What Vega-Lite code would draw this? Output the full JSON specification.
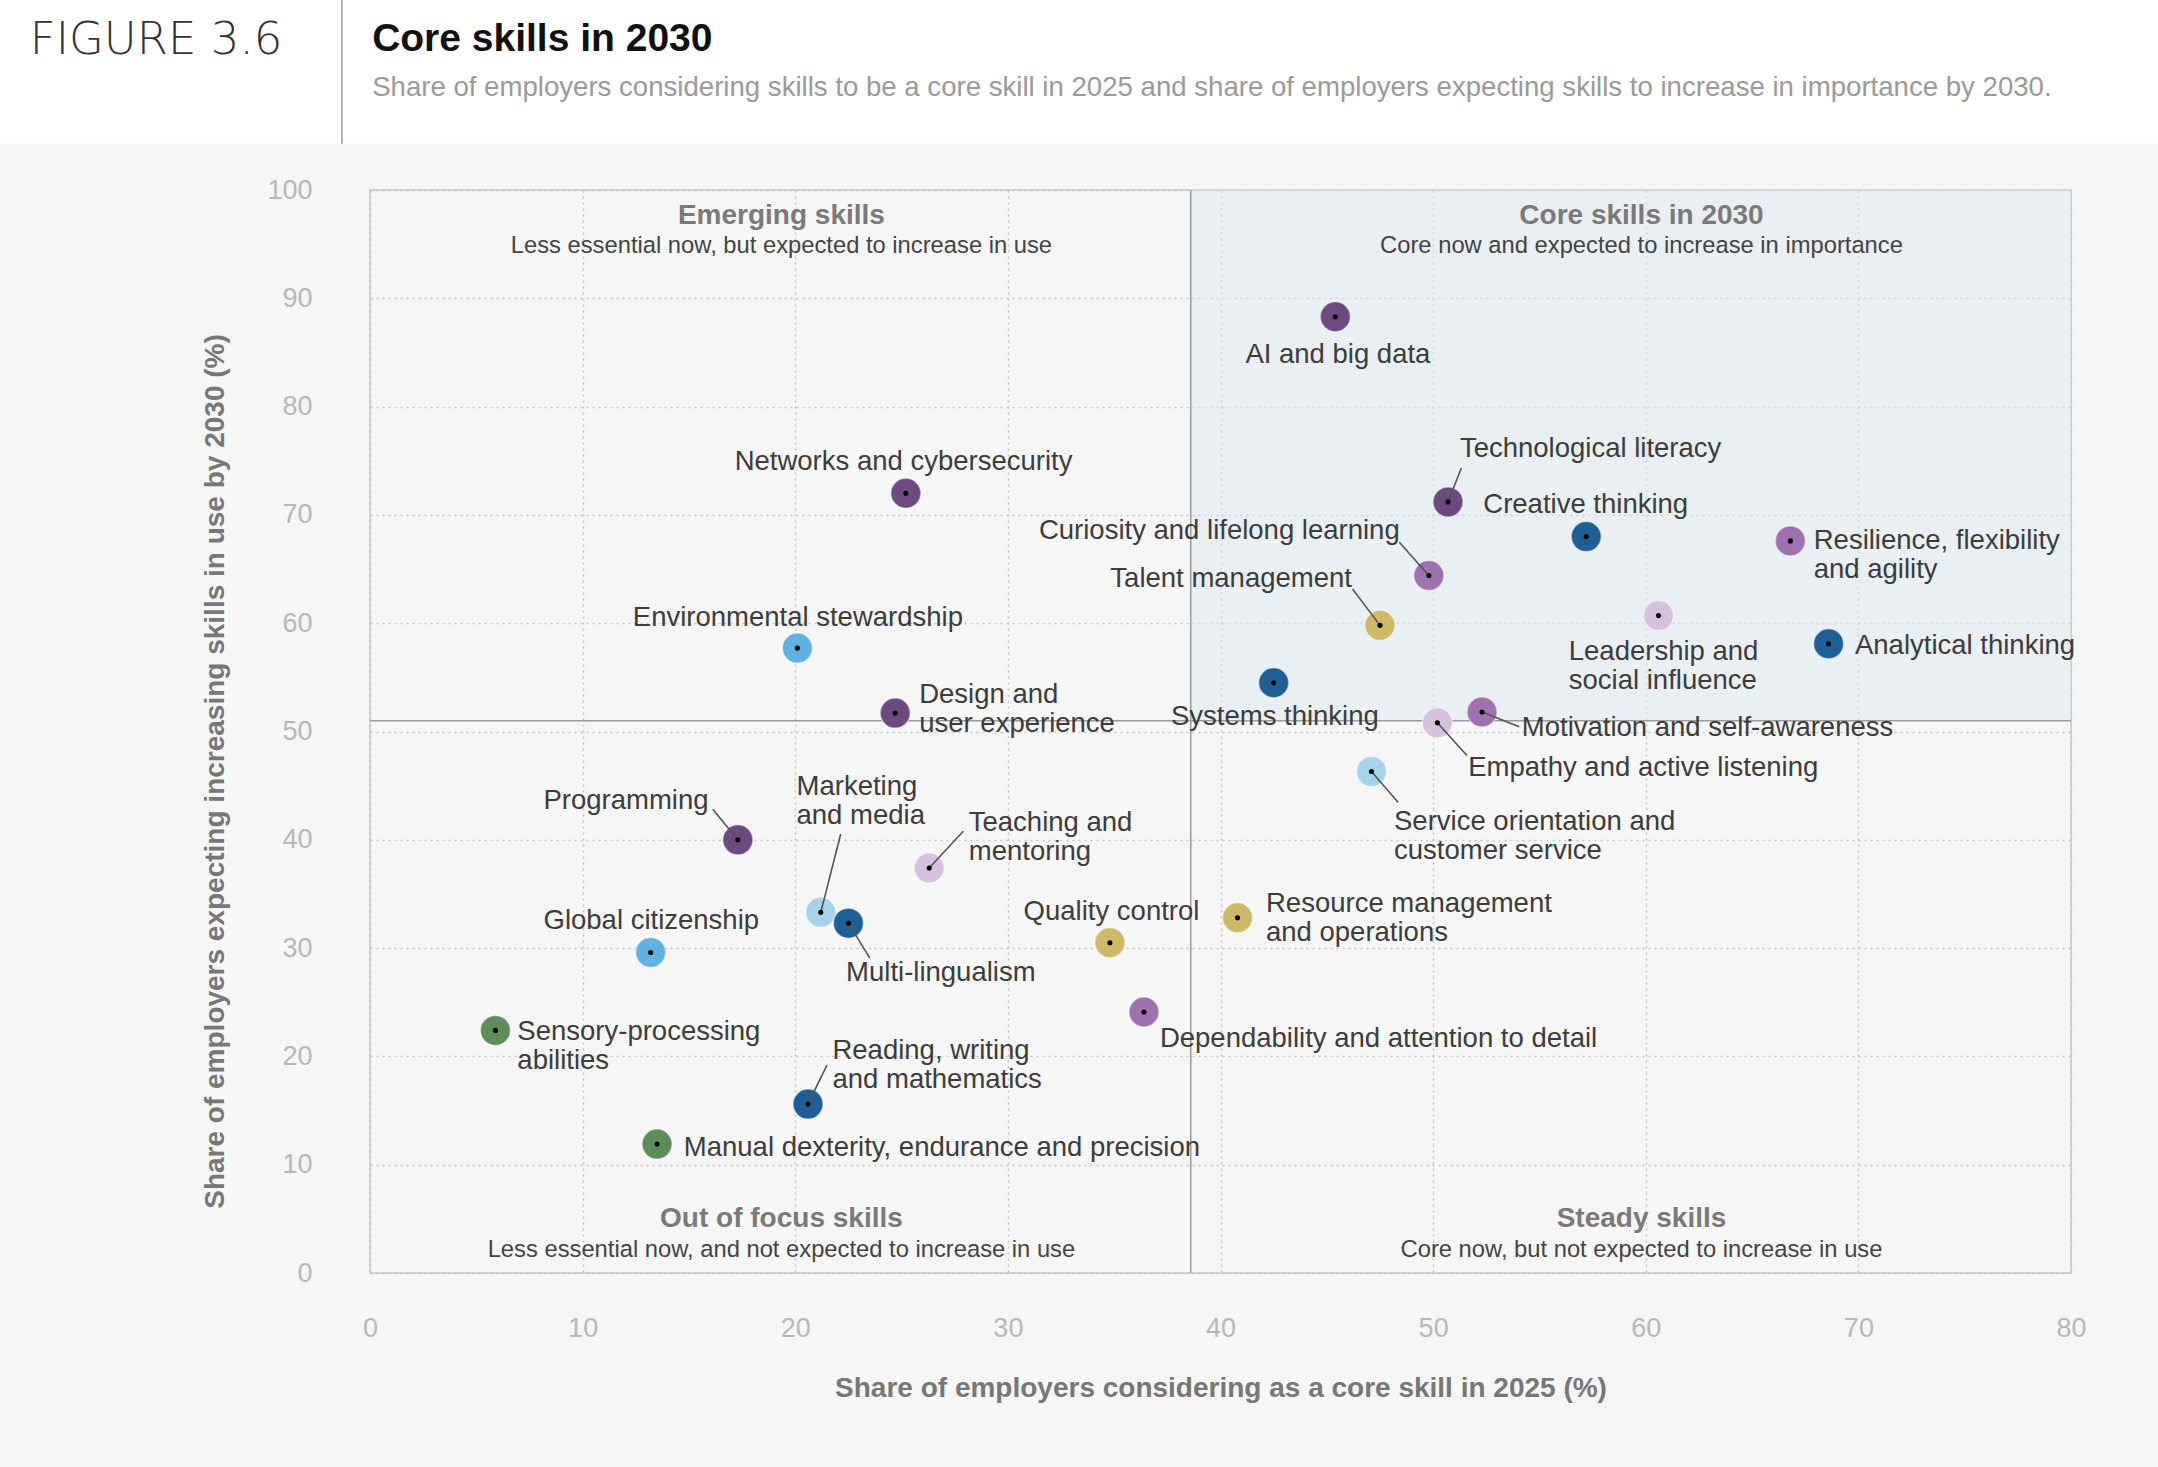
{
  "$schema": "https://vega.github.io/schema/vega-lite/v6.json",
  "width": 1701,
  "height": 1083,
  "autosize": {"type": "none"},
  "padding": {"left": 370, "top": 190, "right": 87, "bottom": 194},
  "background": "#f6f6f6",
  "config": {
    "font": "Liberation Sans",
    "view": {"stroke": "#d2d2d2", "strokeWidth": 2},
    "axis": {
      "grid": true,
      "gridColor": "#c4c4c4",
      "gridDash": [2, 4],
      "gridWidth": 1.5,
      "domain": false,
      "ticks": false,
      "labelFlush": false,
      "labelFontSize": 27,
      "labelColor": "#b8b8b8",
      "labelFont": "Liberation Sans",
      "titleFontSize": 28,
      "titleColor": "#777777",
      "titleFontWeight": "bold",
      "titleFont": "Liberation Sans"
    }
  },
  "datasets": {
    "skills": [
      {"skill": "AI and big data", "label": "AI and big data", "cat": "Technology skills", "x": 45.4, "y": 88.3, "lx": 41.17, "ly": 84.75},
      {"skill": "Networks and cybersecurity", "label": "Networks and cybersecurity", "cat": "Technology skills", "x": 25.2, "y": 72.0, "lx": 17.15, "ly": 74.84},
      {"skill": "Technological literacy", "label": "Technological literacy", "cat": "Technology skills", "x": 50.7, "y": 71.2, "lx": 51.26, "ly": 76.11, "ax": 51.33, "ay": 74.33},
      {"skill": "Creative thinking", "label": "Creative thinking", "cat": "Cognitive skills", "x": 57.2, "y": 68.0, "lx": 52.36, "ly": 70.9},
      {"skill": "Resilience, flexibility and agility", "label": "Resilience, flexibility\nand agility", "cat": "Self-efficacy", "x": 66.8, "y": 67.6, "lx": 67.9, "ly": 67.6},
      {"skill": "Curiosity and lifelong learning", "label": "Curiosity and lifelong learning", "cat": "Self-efficacy", "x": 49.8, "y": 64.4, "lx": 31.46, "ly": 68.49, "ax": 48.41, "ay": 67.47},
      {"skill": "Leadership and social influence", "label": "Leadership and\nsocial influence", "cat": "Working with others", "x": 60.6, "y": 60.7, "lx": 56.38, "ly": 57.31},
      {"skill": "Talent management", "label": "Talent management", "cat": "Management skills", "x": 47.5, "y": 59.8, "lx": 34.82, "ly": 64.04, "ax": 46.21, "ay": 63.15},
      {"skill": "Analytical thinking", "label": "Analytical thinking", "cat": "Cognitive skills", "x": 68.6, "y": 58.1, "lx": 69.84, "ly": 57.94},
      {"skill": "Environmental stewardship", "label": "Environmental stewardship", "cat": "Ethics", "x": 20.1, "y": 57.7, "lx": 12.36, "ly": 60.48},
      {"skill": "Systems thinking", "label": "Systems thinking", "cat": "Cognitive skills", "x": 42.5, "y": 54.5, "lx": 37.67, "ly": 51.33},
      {"skill": "Design and user experience", "label": "Design and\nuser experience", "cat": "Technology skills", "x": 24.7, "y": 51.7, "lx": 25.83, "ly": 53.37},
      {"skill": "Motivation and self-awareness", "label": "Motivation and self-awareness", "cat": "Self-efficacy", "x": 52.3, "y": 51.8, "lx": 54.17, "ly": 50.32, "ax": 54.05, "ay": 50.44},
      {"skill": "Empathy and active listening", "label": "Empathy and active listening", "cat": "Working with others", "x": 50.2, "y": 50.8, "lx": 51.65, "ly": 46.63, "ax": 51.59, "ay": 47.78},
      {"skill": "Service orientation and customer service", "label": "Service orientation and\ncustomer service", "cat": "Engagement skills", "x": 47.1, "y": 46.3, "lx": 48.16, "ly": 41.68, "ax": 48.35, "ay": 43.46},
      {"skill": "Programming", "label": "Programming", "cat": "Technology skills", "x": 17.3, "y": 40.0, "lx": 8.16, "ly": 43.58, "ax": 16.12, "ay": 42.82},
      {"skill": "Teaching and mentoring", "label": "Teaching and\nmentoring", "cat": "Working with others", "x": 26.3, "y": 37.4, "lx": 28.16, "ly": 41.55, "ax": 27.9, "ay": 40.79},
      {"skill": "Marketing and media", "label": "Marketing\nand media", "cat": "Engagement skills", "x": 21.2, "y": 33.3, "lx": 20.06, "ly": 44.85, "ax": 22.14, "ay": 40.53},
      {"skill": "Multi-lingualism", "label": "Multi-lingualism", "cat": "Cognitive skills", "x": 22.5, "y": 32.3, "lx": 22.39, "ly": 27.7, "ax": 23.5, "ay": 29.1},
      {"skill": "Resource management and operations", "label": "Resource management\nand operations", "cat": "Management skills", "x": 40.8, "y": 32.8, "lx": 42.14, "ly": 34.05},
      {"skill": "Quality control", "label": "Quality control", "cat": "Management skills", "x": 34.8, "y": 30.5, "lx": 30.74, "ly": 33.29},
      {"skill": "Global citizenship", "label": "Global citizenship", "cat": "Ethics", "x": 13.2, "y": 29.6, "lx": 8.16, "ly": 32.53},
      {"skill": "Dependability and attention to detail", "label": "Dependability and attention to detail", "cat": "Self-efficacy", "x": 36.4, "y": 24.1, "lx": 37.15, "ly": 21.6},
      {"skill": "Sensory-processing abilities", "label": "Sensory-processing\nabilities", "cat": "Physical abilities", "x": 5.9, "y": 22.4, "lx": 6.93, "ly": 22.24},
      {"skill": "Reading, writing and mathematics", "label": "Reading, writing\nand mathematics", "cat": "Cognitive skills", "x": 20.6, "y": 15.6, "lx": 21.75, "ly": 20.46, "ax": 21.49, "ay": 19.19},
      {"skill": "Manual dexterity, endurance and precision", "label": "Manual dexterity, endurance and precision", "cat": "Physical abilities", "x": 13.5, "y": 11.9, "lx": 14.76, "ly": 11.56}
    ],
    "quadrants": [
      {"name": "Emerging skills", "desc": "Less essential now, but expected to increase in use", "qx": 19.35, "ty": 97.6, "sy": 94.8},
      {"name": "Core skills in 2030", "desc": "Core now and expected to increase in importance", "qx": 59.8, "ty": 97.6, "sy": 94.8},
      {"name": "Out of focus skills", "desc": "Less essential now, and not expected to increase in use", "qx": 19.35, "ty": 4.96, "sy": 2.16},
      {"name": "Steady skills", "desc": "Core now, but not expected to increase in use", "qx": 59.8, "ty": 4.96, "sy": 2.16}
    ],
    "split": [{"xs": 38.6, "ys": 51}],
    "one": [{"figure": "FIGURE 3.6", "title": "Core skills in 2030", "subtitle": "Share of employers considering skills to be a core skill in 2025 and share of employers expecting skills to increase in importance by 2030."}]
  },
  "layer": [
    {
      "data": {"name": "one"},
      "mark": {"type": "rect", "fill": "#ffffff", "clip": false},
      "encoding": {
        "x": {"datum": -17.5, "type": "quantitative", "scale": {"domain": [0, 80], "nice": false, "zero": false}, "axis": {"values": [0, 10, 20, 30, 40, 50, 60, 70, 80], "title": "Share of employers considering as a core skill in 2025 (%)", "labelPadding": 42, "titlePadding": 33}},
        "x2": {"datum": 84.2},
        "y": {"datum": 104.3, "type": "quantitative", "scale": {"domain": [0, 100], "nice": false, "zero": false}, "axis": {"values": [0, 10, 20, 30, 40, 50, 60, 70, 80, 90, 100], "title": "Share of employers expecting increasing skills in use by 2030 (%)", "labelPadding": 58, "titlePadding": 37, "titleY": 581}},
        "y2": {"datum": 118}
      }
    },
    {
      "data": {"name": "one"},
      "mark": {"type": "rule", "color": "#9a9a9a", "strokeWidth": 1.5, "clip": false},
      "encoding": {
        "x": {"datum": -1.32, "type": "quantitative"},
        "y": {"datum": 104.3, "type": "quantitative"},
        "y2": {"datum": 118}
      }
    },
    {
      "data": {"name": "one"},
      "mark": {"type": "text", "align": "left", "baseline": "alphabetic", "fontSize": 45, "font": "DejaVu Sans", "fontWeight": 200, "color": "#333333", "clip": false},
      "encoding": {
        "x": {"datum": -16.0, "type": "quantitative"},
        "y": {"datum": 112.6, "type": "quantitative"},
        "text": {"field": "figure"}
      }
    },
    {
      "data": {"name": "one"},
      "mark": {"type": "text", "align": "left", "baseline": "alphabetic", "fontSize": 39, "fontWeight": "bold", "color": "#111111", "clip": false},
      "encoding": {
        "x": {"datum": 0.1, "type": "quantitative"},
        "y": {"datum": 112.83, "type": "quantitative"},
        "text": {"field": "title"}
      }
    },
    {
      "data": {"name": "one"},
      "mark": {"type": "text", "align": "left", "baseline": "alphabetic", "fontSize": 27.6, "color": "#9a9a9a", "clip": false},
      "encoding": {
        "x": {"datum": 0.1, "type": "quantitative"},
        "y": {"datum": 108.68, "type": "quantitative"},
        "text": {"field": "subtitle"}
      }
    },
    {
      "data": {"name": "split"},
      "mark": {"type": "rect", "fill": "#dbe7ee", "opacity": 0.5},
      "encoding": {
        "x": {"field": "xs", "type": "quantitative"},
        "x2": {"datum": 80},
        "y": {"field": "ys", "type": "quantitative"},
        "y2": {"datum": 100}
      }
    },
    {
      "data": {"name": "split"},
      "mark": {"type": "rule", "color": "#9c9c9c", "strokeWidth": 1.5},
      "encoding": {
        "x": {"field": "xs", "type": "quantitative"},
        "y": {"datum": 0, "type": "quantitative"},
        "y2": {"datum": 100}
      }
    },
    {
      "data": {"name": "split"},
      "mark": {"type": "rule", "color": "#9c9c9c", "strokeWidth": 1.5},
      "encoding": {
        "y": {"field": "ys", "type": "quantitative"},
        "x": {"datum": 0, "type": "quantitative"},
        "x2": {"datum": 80}
      }
    },
    {
      "data": {"name": "quadrants"},
      "mark": {"type": "text", "align": "center", "baseline": "middle", "fontSize": 28, "fontWeight": "bold", "color": "#7a7a7a"},
      "encoding": {
        "x": {"field": "qx", "type": "quantitative"},
        "y": {"field": "ty", "type": "quantitative"},
        "text": {"field": "name"}
      }
    },
    {
      "data": {"name": "quadrants"},
      "mark": {"type": "text", "align": "center", "baseline": "middle", "fontSize": 23.75, "color": "#444444"},
      "encoding": {
        "x": {"field": "qx", "type": "quantitative"},
        "y": {"field": "sy", "type": "quantitative"},
        "text": {"field": "desc"}
      }
    },
    {
      "data": {"name": "skills"},
      "mark": {"type": "circle", "size": 900, "opacity": 1, "stroke": "#ffffff", "strokeOpacity": 0.45, "strokeWidth": 1.5},
      "encoding": {
        "x": {"field": "x", "type": "quantitative"},
        "y": {"field": "y", "type": "quantitative"},
        "color": {
          "field": "cat",
          "type": "nominal",
          "scale": {
            "domain": ["Technology skills", "Self-efficacy", "Working with others", "Cognitive skills", "Ethics", "Engagement skills", "Management skills", "Physical abilities"],
            "range": ["#6b4a80", "#9e72af", "#d5c2dc", "#1f5f95", "#62b1e0", "#a6d3ea", "#cdb968", "#5f8c5a"]
          },
          "legend": null
        }
      }
    },
    {
      "data": {"name": "skills"},
      "transform": [{"filter": "isValid(datum.ax)"}],
      "mark": {"type": "rule", "color": "#555555", "strokeWidth": 1.6},
      "encoding": {
        "x": {"field": "x", "type": "quantitative"},
        "y": {"field": "y", "type": "quantitative"},
        "x2": {"field": "ax"},
        "y2": {"field": "ay"}
      }
    },
    {
      "data": {"name": "skills"},
      "mark": {"type": "circle", "size": 26, "color": "#000000", "opacity": 1},
      "encoding": {
        "x": {"field": "x", "type": "quantitative"},
        "y": {"field": "y", "type": "quantitative"}
      }
    },
    {
      "data": {"name": "skills"},
      "mark": {"type": "text", "align": "left", "baseline": "middle", "fontSize": 27.5, "lineBreak": "\n", "lineHeight": 29, "color": "#3c3c3c"},
      "encoding": {
        "x": {"field": "lx", "type": "quantitative"},
        "y": {"field": "ly", "type": "quantitative"},
        "text": {"field": "label"}
      }
    }
  ]
}
